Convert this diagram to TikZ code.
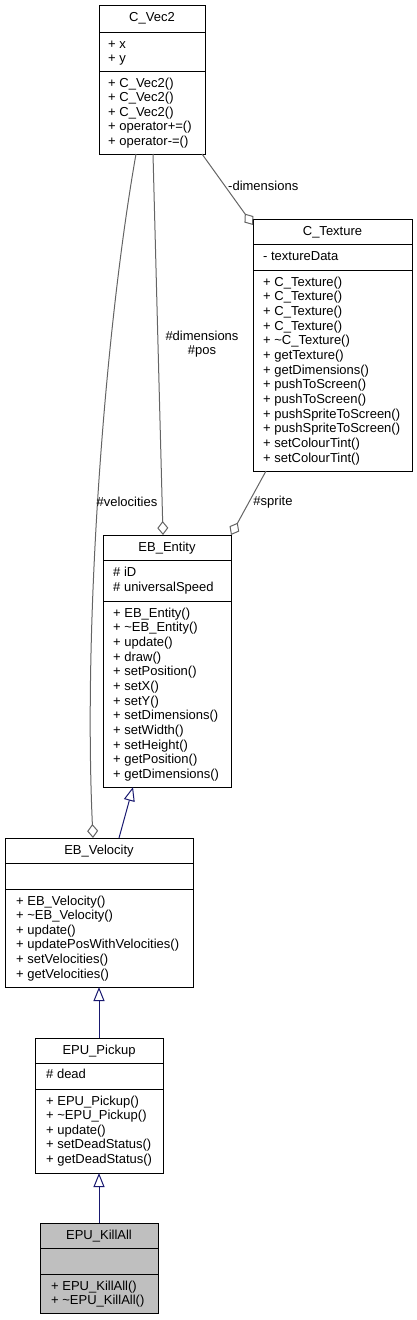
\documentclass[tikz,border=0pt]{standalone}
\usepackage{fontspec}
\setmainfont{Liberation Sans}
\usetikzlibrary{arrows.meta}

\definecolor{edgegray}{HTML}{646464}
\definecolor{inhnavy}{HTML}{191970}
\definecolor{classgray}{HTML}{BFBFBF}

\tikzset{
  classbox/.style={draw=black, line width=1pt, fill=white, inner sep=0pt, outer sep=0pt, anchor=north west},
  classname/.style={anchor=base, inner sep=0pt, font=\fontsize{13}{14.65}\selectfont},
  member/.style={anchor=base west, inner sep=0pt, font=\fontsize{13}{14.65}\selectfont},
  edgelabel/.style={inner sep=0pt, align=center, font=\fontsize{13}{14.65}\selectfont},
  agg/.style={draw=edgegray, line width=1pt, -{Diamond[open, length=14pt, width=11pt]}},
  inherit/.style={draw=inhnavy, line width=1pt, -{Triangle[open, length=14pt, width=11pt]}},
  sep/.style={line width=1pt}
}

% one row per entry, first baseline at (#2,#3)
\newcommand{\members}[4]{%
  \foreach \m [count=\i] in {#4}
    \node[member] (#1\i) at (#2, #3+14.65*\i-14.65) {\m};}

\begin{document}
\begin{tikzpicture}[x=1pt, y=-1pt]
  \useasboundingbox (0,0) rectangle (417,1320);

  % C_Vec2
  \node[classbox, minimum width=106pt, minimum height=149pt] (vec) at (99,5) {};
  \draw[sep] ([yshift=-27pt]vec.north west) -- ([yshift=-27pt]vec.north east);
  \draw[sep] ([yshift=-66pt]vec.north west) -- ([yshift=-66pt]vec.north east);
  \node[classname] (vecname) at (152,21.5) {C\_Vec2};
  \members{veca}{108}{48}{+ x, + y}
  \members{vecm}{108}{87}{+ C\_Vec2(), + C\_Vec2(), + C\_Vec2(), + operator+=(), + operator-=()}

  % C_Texture
  \node[classbox, minimum width=159pt, minimum height=252pt] (tex) at (253,219) {};
  \draw[sep] ([yshift=-25pt]tex.north west) -- ([yshift=-25pt]tex.north east);
  \draw[sep] ([yshift=-51pt]tex.north west) -- ([yshift=-51pt]tex.north east);
  \node[classname] (texname) at (332.5,235.5) {C\_Texture};
  \members{texa}{263}{260.5}{- textureData}
  \members{texm}{263}{286.3}{+ C\_Texture(), + C\_Texture(), + C\_Texture(), + C\_Texture(),
    + \textasciitilde C\_Texture(), + getTexture(), + getDimensions(), + pushToScreen(),
    + pushToScreen(), + pushSpriteToScreen(), + pushSpriteToScreen(), + setColourTint(),
    + setColourTint()}

  % EB_Entity
  \node[classbox, minimum width=128pt, minimum height=252pt] (ent) at (103,535) {};
  \draw[sep] ([yshift=-25pt]ent.north west) -- ([yshift=-25pt]ent.north east);
  \draw[sep] ([yshift=-66pt]ent.north west) -- ([yshift=-66pt]ent.north east);
  \node[classname] (entname) at (167,551.5) {EB\_Entity};
  \members{enta}{113}{576.5}{\# iD, \# universalSpeed}
  \members{entm}{113}{617.2}{+ EB\_Entity(), + \textasciitilde EB\_Entity(), + update(), + draw(),
    + setPosition(), + setX(), + setY(), + setDimensions(), + setWidth(), + setHeight(),
    + getPosition(), + getDimensions()}

  % EB_Velocity
  \node[classbox, minimum width=188pt, minimum height=149pt] (vel) at (5,838) {};
  \draw[sep] ([yshift=-25pt]vel.north west) -- ([yshift=-25pt]vel.north east);
  \draw[sep] ([yshift=-51pt]vel.north west) -- ([yshift=-51pt]vel.north east);
  \node[classname] (velname) at (99,854.5) {EB\_Velocity};
  \members{velm}{16}{905}{+ EB\_Velocity(), + \textasciitilde EB\_Velocity(), + update(),
    + updatePosWithVelocities(), + setVelocities(), + getVelocities()}

  % EPU_Pickup
  \node[classbox, minimum width=128pt, minimum height=135pt] (pick) at (35,1038) {};
  \draw[sep] ([yshift=-25pt]pick.north west) -- ([yshift=-25pt]pick.north east);
  \draw[sep] ([yshift=-51pt]pick.north west) -- ([yshift=-51pt]pick.north east);
  \node[classname] (pickname) at (99,1054.5) {EPU\_Pickup};
  \members{picka}{46}{1078.5}{\# dead}
  \members{pickm}{46}{1105}{+ EPU\_Pickup(), + \textasciitilde EPU\_Pickup(), + update(),
    + setDeadStatus(), + getDeadStatus()}

  % EPU_KillAll
  \node[classbox, fill=classgray, minimum width=118pt, minimum height=90pt] (kill) at (40,1223) {};
  \draw[sep] ([yshift=-25pt]kill.north west) -- ([yshift=-25pt]kill.north east);
  \draw[sep] ([yshift=-51pt]kill.north west) -- ([yshift=-51pt]kill.north east);
  \node[classname] (killname) at (99,1239.5) {EPU\_KillAll};
  \members{killm}{51}{1290}{+ EPU\_KillAll(), + \textasciitilde EPU\_KillAll()}

  % usage
  \draw[agg] ([xshift=-3pt]vec.south east) -- ([yshift=-6pt]tex.north west);
  \node[edgelabel, anchor=west] (dimlabel) at (228,186) {-dimensions};
  \draw[agg] ([xshift=1pt]vec.south) -- ([xshift=-4pt]ent.north);
  \node[edgelabel] (poslabel) at (202,344) {\#dimensions\\\#pos};
  \draw[agg] ([xshift=-16pt]vec.south) .. controls (105,330) and (83,620) .. ([xshift=-6pt]vel.north);
  \node[edgelabel] (vellabel) at (127,502) {\#velocities};
  \draw[agg] ([xshift=13pt]tex.south west) -- (ent.north east);
  \node[edgelabel] (spritelabel) at (273,502) {\#sprite};

  % inheritance
  \draw[inherit] ([xshift=20pt]vel.north) -- ([xshift=-34pt]ent.south);
  \draw[inherit] (pick.north) -- (vel.south);
  \draw[inherit] (kill.north) -- (pick.south);
\end{tikzpicture}
\end{document}
